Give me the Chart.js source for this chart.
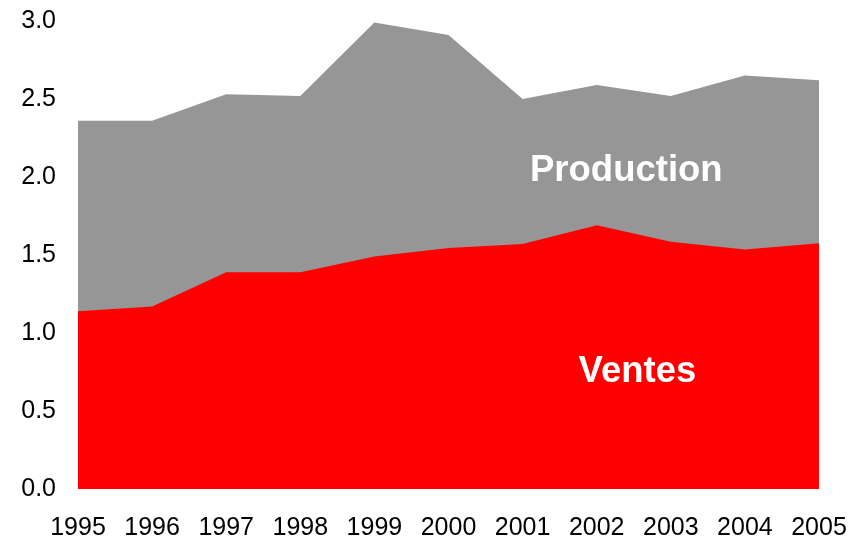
<!DOCTYPE html>
<html>
<head>
<meta charset="utf-8">
<script src="https://cdn.jsdelivr.net/npm/chart.js@4/dist/chart.umd.min.js"></script>
<style>
  html, body { margin: 0; padding: 0; background: #ffffff; }
  #wrap { width: 859px; height: 536px; }
</style>
</head>
<body>
<div id="wrap"><canvas id="c" width="859" height="536"></canvas></div>
<script>
const years = ["1995","1996","1997","1998","1999","2000","2001","2002","2003","2004","2005"];
const production = [2.36, 2.36, 2.53, 2.52, 2.99, 2.91, 2.50, 2.59, 2.52, 2.65, 2.62];
const ventes = [1.14, 1.17, 1.39, 1.39, 1.49, 1.545, 1.57, 1.69, 1.585, 1.535, 1.575];
const yTicks = [0.0, 0.5, 1.0, 1.5, 2.0, 2.5, 3.0];

const areaLabels = {
  id: 'areaLabels',
  afterDatasetsDraw(chart) {
    const ctx = chart.ctx;
    const x = chart.scales.x, y = chart.scales.y;
    ctx.save();
    ctx.fillStyle = '#ffffff';
    ctx.font = 'bold 36.5px "Liberation Sans", Arial, sans-serif';
    ctx.textAlign = 'center';
    ctx.textBaseline = 'middle';
    ctx.fillText('Production', x.getPixelForValue(7.4), y.getPixelForValue(2.04));
    ctx.fillText('Ventes', x.getPixelForValue(7.55), y.getPixelForValue(0.75));
    ctx.restore();
  }
};

new Chart(document.getElementById('c'), {
  type: 'line',
  data: {
    labels: years,
    datasets: [
      { label: 'Ventes', data: ventes, fill: 'origin', backgroundColor: '#ff0000', borderWidth: 0, pointRadius: 0, tension: 0 },
      { label: 'Production', data: production, fill: 'origin', backgroundColor: '#969696', borderWidth: 0, pointRadius: 0, tension: 0 }
    ]
  },
  options: {
    responsive: false,
    animation: false,
    events: [],
    layout: { padding: { top: 21, right: 40, bottom: 0, left: 0 } },
    plugins: { legend: { display: false }, tooltip: { enabled: false } },
    scales: {
      x: {
        offset: false,
        afterFit(scale) { scale.height = 47; scale.paddingLeft = 0; scale.paddingRight = 0; },
        grid: { display: false, drawTicks: false },
        border: { display: false },
        ticks: { color: '#000', font: { family: '"Liberation Sans", Arial, sans-serif', size: 25 }, padding: 24, maxRotation: 0, autoSkip: false }
      },
      y: {
        min: 0, max: 3,
        afterFit(scale) { scale.width = 78; scale.paddingTop = 0; scale.paddingBottom = 0; },
        afterBuildTicks(scale) { scale.ticks = yTicks.map(v => ({ value: v })); },
        grid: { display: false, drawTicks: false },
        border: { display: false },
        ticks: { color: '#000', font: { family: '"Liberation Sans", Arial, sans-serif', size: 25 }, padding: 22, callback: v => Number(v).toFixed(1) }
      }
    }
  },
  plugins: [areaLabels]
});
</script>
</body>
</html>
